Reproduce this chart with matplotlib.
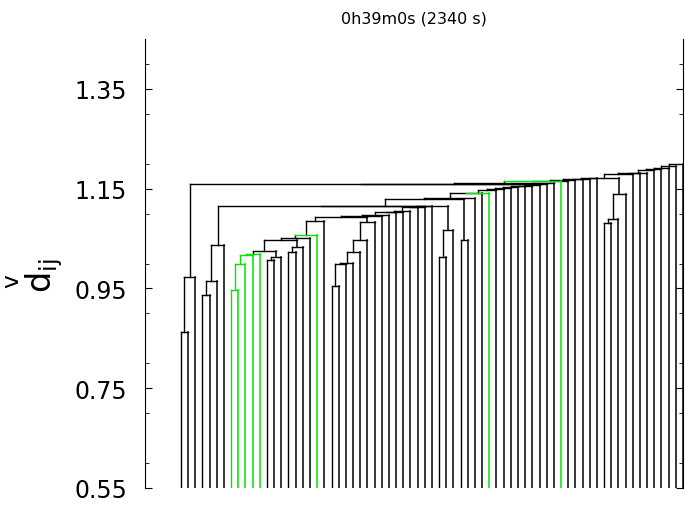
import matplotlib
matplotlib.use('Agg')
import matplotlib.pyplot as plt
from matplotlib.ticker import MultipleLocator

# dendrogram: 71 leaves in display order, merges as (name, left, right, height)
n_leaves = 71
links = [
    ("c0", 0, 1, 0.863),
    ("c1", "c0", 2, 0.973),
    ("c2", 3, 4, 0.937),
    ("c3", "c2", 5, 0.964),
    ("c4", "c3", 6, 1.038),
    ("g1", 7, 8, 0.947),
    ("g2", "g1", 9, 1.000),
    ("g3", "g2", 10, 1.017),
    ("g4", "g3", 11, 1.019),
    ("a1", 12, 13, 1.007),
    ("a2", "a1", 14, 1.013),
    ("a3", "g4", "a2", 1.025),
    ("d1", 15, 16, 1.023),
    ("d2", "d1", 17, 1.033),
    ("f1", "a3", "d2", 1.048),
    ("f2", "f1", 18, 1.052),
    ("f3", "f2", 19, 1.057),
    ("f4", "f3", 20, 1.085),
    ("j1", 21, 22, 0.955),
    ("j2", "j1", 23, 0.999),
    ("j3", "j2", 24, 1.001),
    ("j4", "j3", 25, 1.024),
    ("j5", "j4", 26, 1.048),
    ("j6", "j5", 27, 1.083),
    ("r1", "f4", "j6", 1.093),
    ("r2", "r1", 28, 1.095),
    ("r3", "r2", 29, 1.097),
    ("r4", "r3", 30, 1.103),
    ("r5", "r4", 31, 1.104),
    ("r6", "r5", 32, 1.106),
    ("r7", "r6", 33, 1.113),
    ("r8", "r7", 34, 1.114),
    ("r9", "r8", 35, 1.1145),
    ("q1", 36, 37, 1.013),
    ("q2", "q1", 38, 1.067),
    ("v1", "c4", "r9", 1.115),
    ("v2", "v1", "q2", 1.1153),
    ("p1", 39, 40, 1.048),
    ("u1", "v2", "p1", 1.129),
    ("u2", "u1", 41, 1.131),
    ("u3", "u2", 42, 1.1405),
    ("u4", "u3", 43, 1.141),
    ("u5", "u4", 44, 1.1466),
    ("u6", "u5", 45, 1.149),
    ("u7", "u6", 46, 1.152),
    ("u8", "u7", 47, 1.153),
    ("u9", "u8", 48, 1.1546),
    ("u10", "u9", 49, 1.156),
    ("u11", "u10", 50, 1.158),
    ("t0", "c1", "u11", 1.160),
    ("t1", "t0", 51, 1.1602),
    ("t2", "t1", 52, 1.1605),
    ("t3", "t2", 53, 1.165),
    ("t4", "t3", 54, 1.166),
    ("t5", "t4", 55, 1.1666),
    ("t6", "t5", 56, 1.169),
    ("t7", "t6", 57, 1.170),
    ("t8", "t7", 58, 1.171),
    ("k1", 59, 60, 1.082),
    ("k2", "k1", 61, 1.089),
    ("k3", "k2", 62, 1.140),
    ("t9", "t8", "k3", 1.172),
    ("t10", "t9", 63, 1.180),
    ("t11", "t10", 64, 1.181),
    ("t12", "t11", 65, 1.182),
    ("t13", "t12", 66, 1.187),
    ("t14", "t13", 67, 1.1886),
    ("t15", "t14", 68, 1.192),
    ("t16", "t15", 69, 1.195),
    ("t17", "t16", 70, 1.199),
]
# links drawn fully green, and links with only the bar and right leg green
green_full = ["g1", "g2", "g3", "g4"]
green_right = ["f3", "u4", "t3"]

title = "0h39m0s (2340 s)"
y_min, y_max = 0.55, 1.45
y_ticks = [0.55, 0.75, 0.95, 1.15, 1.35]

black = "black"
green = "#00e600"

fig = plt.figure(figsize=(6.85, 5.06), dpi=100)
ax = fig.add_axes([145 / 685, 17 / 506, 538 / 685, 449 / 506])

pos = {i: float(i) for i in range(n_leaves)}
top = {i: y_min for i in range(n_leaves)}
for name, left, right, h in links:
    xa, ya = pos[left], top[left]
    xb, yb = pos[right], top[right]
    c_left = green if name in green_full else black
    c_right = green if name in green_full or name in green_right else black
    z_left = 3 if c_left == green else 2
    z_right = 3 if c_right == green else 2
    ax.plot([xa, xa], [ya, h], color=c_left, lw=1.0, zorder=z_left)
    ax.plot([xb, xb], [yb, h], color=c_right, lw=1.1, zorder=z_right)
    ax.plot([xa, xb], [h, h], color=c_right, lw=1.0, zorder=z_right)
    pos[name] = (xa + xb) / 2
    top[name] = h

ax.set_xlim(-5, n_leaves - 1)
ax.set_ylim(y_min, y_max)
ax.set_yticks(y_ticks)
ax.set_yticklabels([f"{t:.2f}" for t in y_ticks])
ax.yaxis.set_minor_locator(MultipleLocator(0.1))
ax.set_xticks([])
ax.spines["top"].set_visible(False)
ax.spines["bottom"].set_visible(False)
ax.tick_params(axis="y", which="both", direction="in", left=True, right=True,
               labelsize=17, pad=13)
ax.tick_params(axis="y", which="major", length=5)
ax.tick_params(axis="y", which="minor", length=3)
ax.set_title(title, fontsize=11.5, pad=12)

fig.text(35 / 685, 1 - 276 / 506, r"$\overset{\mathrm{v}}{\mathrm{d}}_{\mathrm{ij}}$",
         rotation=90, ha="center", va="center", fontsize=24)

fig.savefig("out.png", dpi=100)
